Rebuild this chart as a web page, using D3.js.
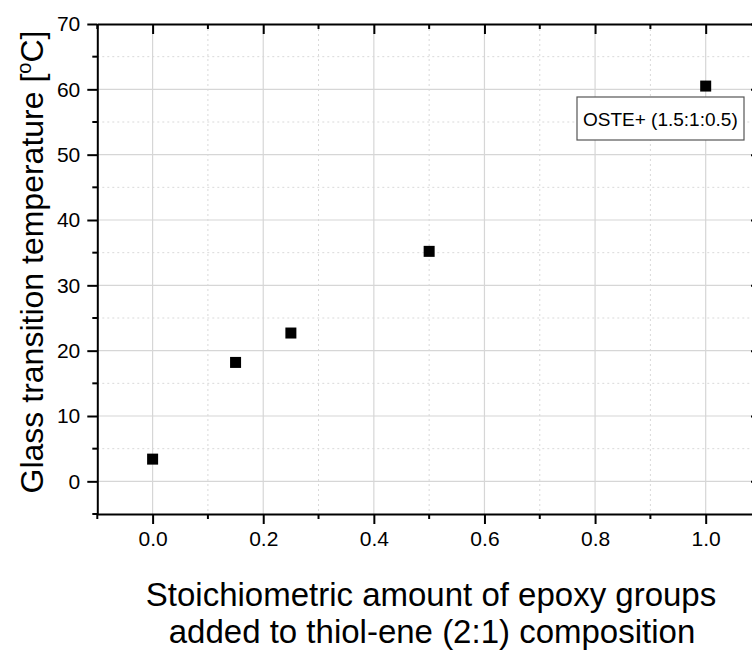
<!DOCTYPE html>
<html>
<head>
<meta charset="utf-8">
<script src="https://cdn.jsdelivr.net/npm/d3@7"></script>
<style>
  html, body { margin: 0; padding: 0; background: #fff; }
  svg { display: block; font-family: "Liberation Sans", Arial, sans-serif; }
</style>
</head>
<body>
<svg id="chart" width="752" height="651"></svg>
<script>
// Epoxy content (stoichiometric amount) vs. glass transition temperature
const epoxyAmount = [0.0, 0.15, 0.25, 0.5, 1.0];
const tgValues = [3.4, 18.2, 22.7, 35.2, 60.5];
const xTicks = [0.0, 0.2, 0.4, 0.6, 0.8, 1.0];
const xMinor = [-0.1, 0.1, 0.3, 0.5, 0.7, 0.9, 1.1];
const yTicks = [0, 10, 20, 30, 40, 50, 60, 70];
const yMinor = [-5, 5, 15, 25, 35, 45, 55, 65];
const legendLabel = "OSTE+ (1.5:1:0.5)";

const svg = d3.select("#chart");
const plotL = 97.3, plotR = 761, plotT = 24, plotB = 514;

const x = d3.scaleLinear().domain([-0.1, 1.1]).range([plotL, plotR]);
const y = d3.scaleLinear().domain([-5, 70]).range([plotB, plotT]);

const grid = svg.append("g");
// minor grid (dotted)
grid.selectAll(".vmin").data(xMinor.filter(d => d > -0.1 && d < 1.1)).join("line")
  .attr("x1", d => x(d)).attr("x2", d => x(d)).attr("y1", plotT).attr("y2", plotB)
  .attr("stroke", "#d9d9d9").attr("stroke-width", 1).attr("stroke-dasharray", "2,3");
grid.selectAll(".hmin").data(yMinor.filter(d => d > -5 && d < 70)).join("line")
  .attr("x1", plotL).attr("x2", plotR).attr("y1", d => y(d)).attr("y2", d => y(d))
  .attr("stroke", "#d9d9d9").attr("stroke-width", 1).attr("stroke-dasharray", "2,3");
// major grid (solid)
grid.selectAll(".vmaj").data(xTicks).join("line")
  .attr("x1", d => x(d)).attr("x2", d => x(d)).attr("y1", plotT).attr("y2", plotB)
  .attr("stroke", "#d6d6d6").attr("stroke-width", 1.2);
grid.selectAll(".hmaj").data(yTicks.filter(d => d < 70)).join("line")
  .attr("x1", plotL).attr("x2", plotR).attr("y1", d => y(d)).attr("y2", d => y(d))
  .attr("stroke", "#d6d6d6").attr("stroke-width", 1.2);

const tickFont = 21;
function styleAxis(g) {
  g.select(".domain").attr("stroke", "#000").attr("stroke-width", 2);
  g.selectAll(".tick line").attr("stroke", "#000").attr("stroke-width", 2);
  g.selectAll(".tick text").attr("fill", "#000").attr("font-size", tickFont)
    .attr("font-family", "'Liberation Sans', Arial, sans-serif");
}

// bottom axis
const xAxis = svg.append("g").attr("transform", `translate(0,${plotB})`)
  .call(d3.axisBottom(x).tickValues(xTicks).tickFormat(d3.format(".1f"))
    .tickSizeInner(10).tickSizeOuter(0).tickPadding(7));
styleAxis(xAxis);
xAxis.selectAll(".minor").data(xMinor).join("line")
  .attr("x1", d => x(d)).attr("x2", d => x(d)).attr("y1", 0).attr("y2", 5)
  .attr("stroke", "#000").attr("stroke-width", 2);

// top axis (ticks inward)
const xTop = svg.append("g").attr("transform", `translate(0,${plotT})`)
  .call(d3.axisTop(x).tickValues(xTicks).tickFormat("").tickSizeInner(-10).tickSizeOuter(0));
styleAxis(xTop);
xTop.selectAll(".minor").data(xMinor).join("line")
  .attr("x1", d => x(d)).attr("x2", d => x(d)).attr("y1", 0).attr("y2", 5)
  .attr("stroke", "#000").attr("stroke-width", 2);

// left axis
const yAxis = svg.append("g").attr("transform", `translate(${plotL},0)`)
  .call(d3.axisLeft(y).tickValues(yTicks).tickFormat(d3.format("d"))
    .tickSizeInner(10).tickSizeOuter(0).tickPadding(7));
styleAxis(yAxis);
yAxis.selectAll(".minor").data(yMinor).join("line")
  .attr("x1", -5).attr("x2", 0).attr("y1", d => y(d)).attr("y2", d => y(d))
  .attr("stroke", "#000").attr("stroke-width", 2);

// right axis (ticks inward)
const yRight = svg.append("g").attr("transform", `translate(${plotR},0)`)
  .call(d3.axisRight(y).tickValues(yTicks).tickFormat("").tickSizeInner(-10).tickSizeOuter(0));
styleAxis(yRight);
yRight.selectAll(".minor").data(yMinor).join("line")
  .attr("x1", -5).attr("x2", 0).attr("y1", d => y(d)).attr("y2", d => y(d))
  .attr("stroke", "#000").attr("stroke-width", 2);

// data markers
const ms = 11;
svg.append("g").selectAll("rect").data(epoxyAmount.map((d, i) => [d, tgValues[i]])).join("rect")
  .attr("x", d => x(d[0]) - ms / 2).attr("y", d => y(d[1]) - ms / 2)
  .attr("width", ms).attr("height", ms).attr("fill", "#000");

// legend box
const lg = svg.append("g");
lg.append("rect").attr("x", 577).attr("y", 97).attr("width", 167).attr("height", 43)
  .attr("fill", "#fff").attr("stroke", "#555").attr("stroke-width", 1.2);
lg.append("text").attr("x", 583).attr("y", 126).attr("font-size", 19).attr("fill", "#000")
  .text(legendLabel);

// axis titles
const title = svg.append("g").attr("font-size", 33).attr("fill", "#000");
title.append("text").attr("x", 431).attr("y", 606).attr("text-anchor", "middle")
  .text("Stoichiometric amount of epoxy groups");
title.append("text").attr("x", 432).attr("y", 643).attr("text-anchor", "middle")
  .text("added to thiol-ene (2:1) composition");

const yt = title.append("text").attr("text-anchor", "middle").attr("font-size", 32)
  .attr("transform", "translate(43,262) rotate(-90)");
yt.append("tspan").text("Glass transition temperature [");
yt.append("tspan").attr("font-size", 20).attr("dy", -12).text("o");
yt.append("tspan").attr("dy", 12).text("C]");
</script>
</body>
</html>
